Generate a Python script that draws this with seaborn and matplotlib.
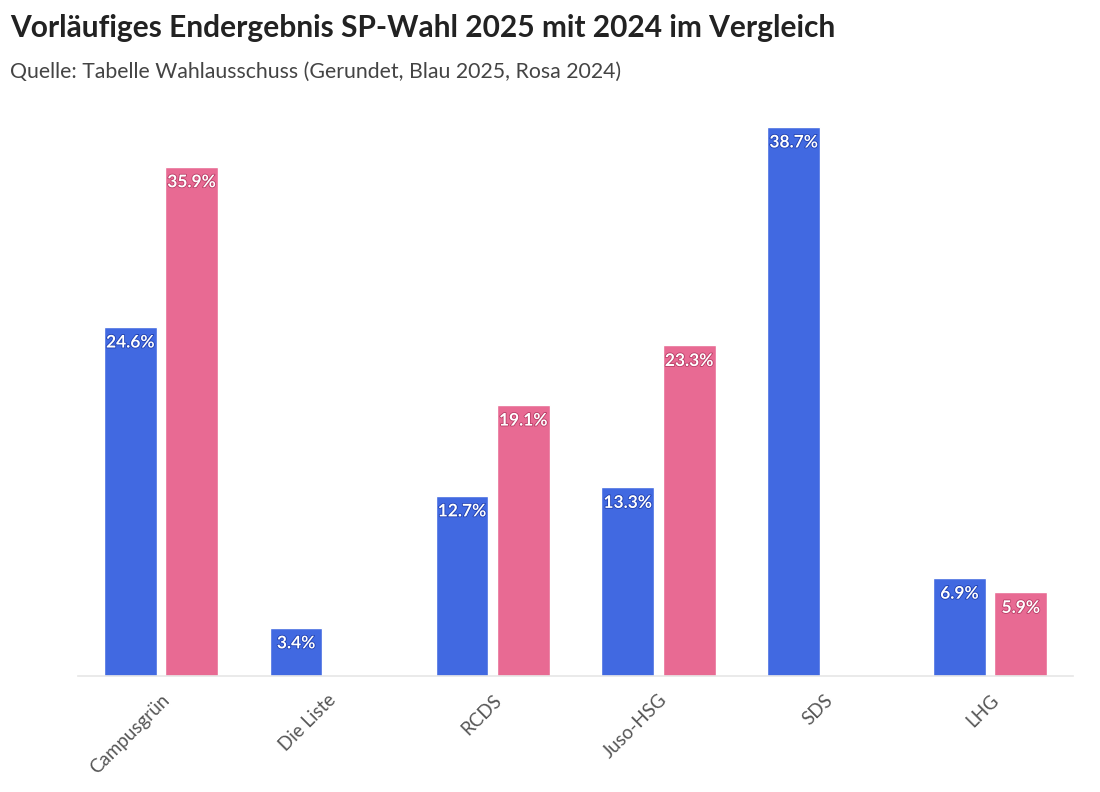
import numpy as np
import pandas as pd
import matplotlib.pyplot as plt
import matplotlib.patheffects as pe
import seaborn as sns

# ---------------------------------------------------------------
# Data (percent, rounded) -- SP-Wahl 2025 vs 2024
# ---------------------------------------------------------------
lists = ["Campusgrün", "Die Liste", "RCDS", "Juso-HSG", "SDS", "LHG"]
votes_2025 = [24.6, 3.4, 12.7, 13.3, 38.7, 6.9]
votes_2024 = [35.9, np.nan, 19.1, 23.3, np.nan, 5.9]
years = ["2025", "2024"]

blue = "#4169e1"
pink = "#e86a93"

df = pd.DataFrame({
    "Liste": lists * 2,
    "Jahr": [years[0]] * len(lists) + [years[1]] * len(lists),
    "Anteil": votes_2025 + votes_2024,
}).dropna()

sns.set_style("white")
plt.rcParams["font.family"] = ["Lato", "DejaVu Sans"]

fig = plt.figure(figsize=(11, 7.92), dpi=100)
ax = fig.add_axes([0.0709, 0.1465, 0.9046, 0.7166])

sns.barplot(data=df, x="Liste", y="Anteil", hue="Jahr", order=lists,
            hue_order=years, palette=[blue, pink], width=0.74, gap=0.14,
            saturation=1, legend=False, ax=ax)

# value labels inside the top of each bar
for cont, col in zip(ax.containers, ["#1f3fb0", "#b83d66"]):
    labels = ax.bar_label(cont, fmt="{:.1f}%", padding=-17, color="white",
                          fontsize=12.5, fontweight="bold")
    for t in labels:
        t.set_path_effects([pe.withStroke(linewidth=1.2, foreground=col)])

ax.set_xlim(-0.5, len(lists) - 0.5)
ax.set_ylim(0, 40)
ax.set_xlabel("")
ax.set_ylabel("")
ax.set_yticks([])
for side in ["top", "right", "left"]:
    ax.spines[side].set_visible(False)
ax.spines["bottom"].set_color("#e6e6e6")
ax.spines["bottom"].set_linewidth(1.2)
ax.tick_params(axis="x", length=5, width=1, color="#dddddd",
               labelcolor="#555555", labelsize=13.5, pad=6)
for lbl in ax.get_xticklabels():
    lbl.set_rotation(45)
    lbl.set_ha("right")
    lbl.set_rotation_mode("anchor")

fig.text(0.009, 0.965, "Vorläufiges Endergebnis SP-Wahl 2025 mit 2024 im Vergleich",
         fontsize=21.5, fontweight="bold", color="#222222", va="center")
fig.text(0.009, 0.909, "Quelle: Tabelle Wahlausschuss (Gerundet, Blau 2025, Rosa 2024)",
         fontsize=15.3, color="#444444", va="center")

fig.savefig("out.png", dpi=100)
